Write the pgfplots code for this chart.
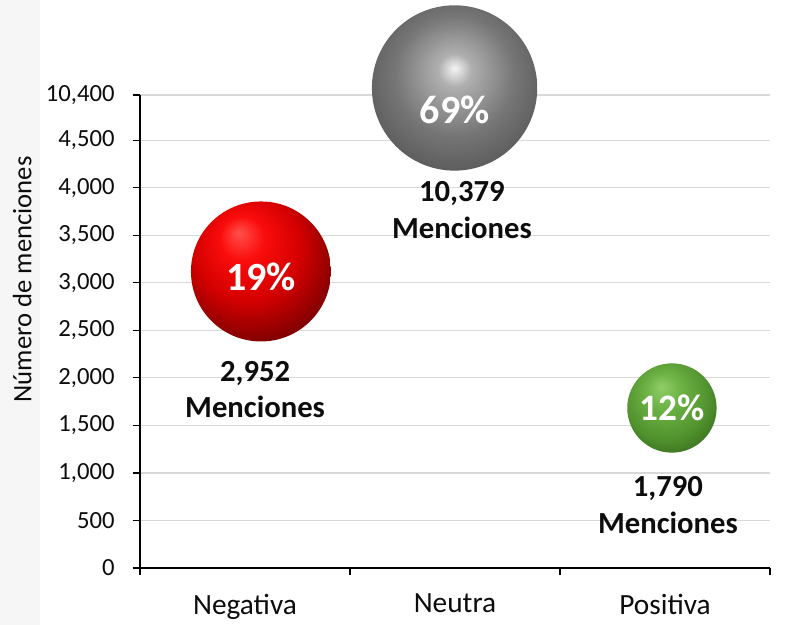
\documentclass[border=0pt]{standalone}
\usepackage{fontspec}
\setmainfont{Carlito}
\usepackage{pgfplots}
\pgfplotsset{compat=1.18}

\definecolor{gridc}{RGB}{217,217,217}
\definecolor{strip}{RGB}{246,246,246}
\definecolor{txt}{RGB}{13,13,13}
% sphere colours
\definecolor{rA}{RGB}{255,80,75}
\definecolor{rB}{RGB}{250,12,12}
\definecolor{rC}{RGB}{212,0,0}
\definecolor{rD}{RGB}{135,0,0}
\definecolor{rE}{RGB}{78,0,0}
\definecolor{rF}{RGB}{45,0,0}
\definecolor{gA}{RGB}{245,245,245}
\definecolor{gB}{RGB}{175,175,175}
\definecolor{gC}{RGB}{118,118,118}
\definecolor{gD}{RGB}{72,72,72}
\definecolor{gE}{RGB}{35,35,35}
\definecolor{vA}{RGB}{145,205,105}
\definecolor{vB}{RGB}{108,178,68}
\definecolor{vC}{RGB}{80,145,45}
\definecolor{vD}{RGB}{38,80,18}
\definecolor{vE}{RGB}{15,35,8}

\pgfdeclareradialshading{redball}{\pgfpoint{-8bp}{14bp}}{%
  color(0bp)=(rA); color(8bp)=(rB); color(19bp)=(rC);
  color(30bp)=(rD); color(41bp)=(rE); color(50bp)=(rF)}
\pgfdeclareradialshading{grayball}{\pgfpoint{0bp}{6bp}}{%
  color(0bp)=(gA); color(5bp)=(gB); color(18bp)=(gC);
  color(36bp)=(gD); color(50bp)=(gE)}
\pgfdeclareradialshading{greenball}{\pgfpoint{-6bp}{12bp}}{%
  color(0bp)=(vA); color(10bp)=(vB); color(24bp)=(vC);
  color(40bp)=(vD); color(50bp)=(vE)}

\pgfdeclareplotmark{redball}{\pgfpathcircle{\pgfpointorigin}{\pgfplotmarksize}\pgfshadepath{redball}{0}\pgfusepath{}}
\pgfdeclareplotmark{grayball}{\pgfpathcircle{\pgfpointorigin}{\pgfplotmarksize}\pgfshadepath{grayball}{0}\pgfusepath{}}
\pgfdeclareplotmark{greenball}{\pgfpathcircle{\pgfpointorigin}{\pgfplotmarksize}\pgfshadepath{greenball}{0}\pgfusepath{}}

\pgfplotsset{
  pct/.style={only marks, nodes near coords={#1},
    every node near coord/.append style={anchor=center, text=white,
      font=\fontsize{30}{30}\selectfont\bfseries}},
  lbl/.style={only marks, mark=none, nodes near coords={#1},
    every node near coord/.append style={anchor=center, align=center,
      text=txt, font=\fontsize{23}{27.5}\selectfont\bfseries}},
}

\begin{document}
\begin{tikzpicture}
\useasboundingbox (0,0) rectangle (589.5pt,468.75pt);
\fill[strip] (0,0) rectangle (30pt,468.75pt);
\begin{axis}[
  at={(105pt,42.75pt)}, anchor=south west,
  scale only axis, width=472.5pt, height=354.75pt,
  xmin=0.5, xmax=3.5, ymin=0, ymax=4975,
  clip=false,
  axis x line*=bottom, axis y line*=left,
  axis line style={-, black, line width=0.9pt},
  tick align=outside,
  xtick={1,2,3},
  xticklabels={Negativa,Neutra,Positiva},
  minor xtick={0.5,1.5,2.5,3.5},
  major x tick style={draw=none},
  minor x tick style={black, line width=0.9pt},
  minor tick length=5.5pt,
  major tick length=5.5pt,
  y tick style={black, line width=0.9pt},
  ytick={0,500,1000,1500,2000,2500,3000,3500,4000,4500,4975},
  yticklabels={0,500,{1,000},{1,500},{2,000},{2,500},{3,000},{3,500},{4,000},{4,500},{10,400}},
  ymajorgrids, grid style={gridc, line width=0.9pt},
  /pgf/number format/assume math mode=true,
  yticklabel style={font=\fontsize{18.5}{18.5}\selectfont, text=txt, xshift=-10pt},
  xticklabel style={font=\fontsize{22}{22}\selectfont, text=txt, yshift=-10.5pt},
  ylabel={Número de menciones},
  ylabel style={at={(axis description cs:-0.187,0.61)}, anchor=center,
    font=\fontsize{20}{20}\selectfont, text=txt},
]
% bubbles (placed as drawn on the broken scale)
\addplot[pct={19\%}, mark=redball, mark size=52.5pt,
  every node near coord/.append style={yshift=-4pt}] coordinates {(1.076,3119)};
\addplot[pct={69\%}, mark=grayball, mark size=62pt,
  every node near coord/.append style={yshift=-16.5pt}] coordinates {(1.998,5049)};
\addplot[pct={12\%}, mark=greenball, mark size=33.5pt,
  every node near coord/.append style={font=\fontsize{28}{28}\selectfont\bfseries}] coordinates {(3.033,1683)};
% labels below the bubbles
\addplot[lbl={2,952\\Menciones}, every node near coord/.append style={yshift=-88.5pt}]
  coordinates {(1.048,3119)};
\addplot[lbl={10,379\\Menciones}, every node near coord/.append style={yshift=-91.5pt}]
  coordinates {(2.033,5049)};
\addplot[lbl={1,790\\Menciones}, every node near coord/.append style={yshift=-72.75pt}]
  coordinates {(3.014,1683)};
\end{axis}
\end{tikzpicture}
\end{document}
